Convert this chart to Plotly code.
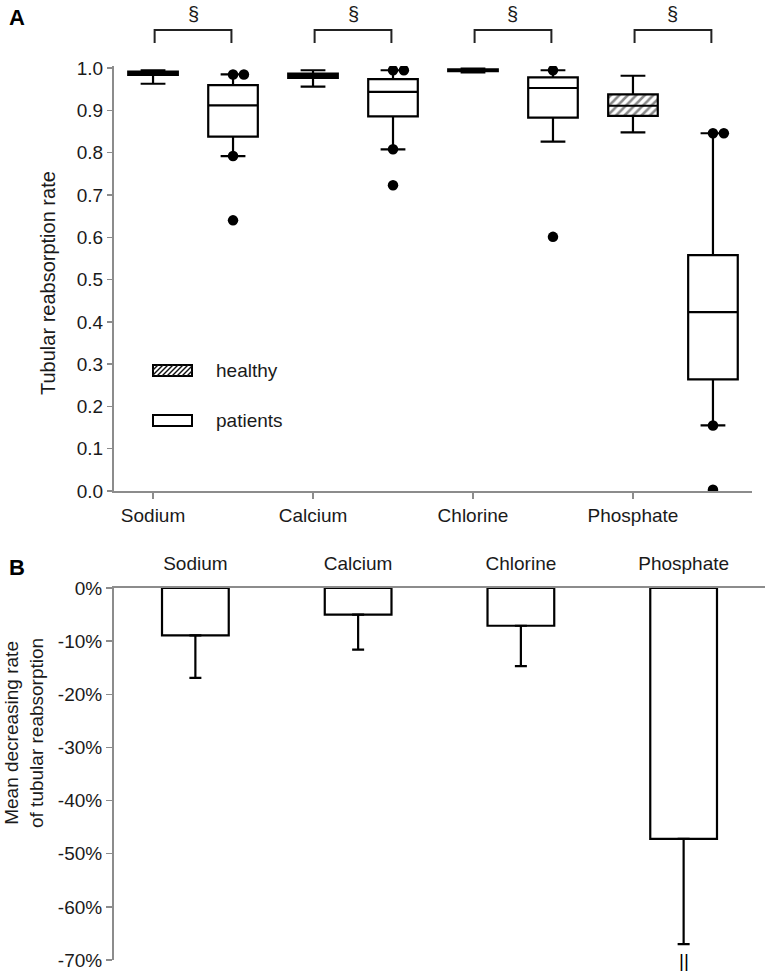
import plotly.graph_objects as go

# ---------------- data ----------------
categories = ["Sodium", "Calcium", "Chlorine", "Phosphate"]

# Panel A: tubular reabsorption rate (box summaries)
healthy_low = [0.963, 0.956, 0.990, 0.848]
healthy_q1 = [0.984, 0.977, 0.993, 0.887]
healthy_med = [0.988, 0.982, 0.995, 0.911]
healthy_q3 = [0.992, 0.987, 0.997, 0.938]
healthy_high = [0.995, 0.995, 0.999, 0.982]

patients_low = [0.792, 0.808, 0.826, 0.155]
patients_q1 = [0.838, 0.886, 0.883, 0.264]
patients_med = [0.912, 0.944, 0.953, 0.423]
patients_q3 = [0.960, 0.974, 0.978, 0.558]
patients_high = [0.985, 0.995, 0.995, 0.846]

# individual points shown for patients (per category)
patients_points = [
    [0.985, 0.985, 0.792, 0.640],
    [0.995, 0.995, 0.808, 0.723],
    [0.995, 0.601],
    [0.846, 0.846, 0.155, 0.003],
]

# Panel B: mean decreasing rate of tubular reabsorption (%)
mean_decrease = [-8.9, -5.0, -7.1, -47.2]
sd_decrease = [8.0, 6.6, 7.6, 19.8]

ticks_a = [0.0, 0.1, 0.2, 0.3, 0.4, 0.5, 0.6, 0.7, 0.8, 0.9, 1.0]
ticks_b = [0, -10, -20, -30, -40, -50, -60, -70]

# ---------------- styling ----------------
W, H = 768, 974
FONT = "Liberation Sans, Arial, sans-serif"
TXT = "#1a1a1a"
AXC = "#8c8c8c"
BOXW = 0.31
OFF = 0.5


def px(x):
    return x / W


def py(y):
    return 1 - y / H


fig = go.Figure()

n = len(categories)
pos_h = list(range(n))
pos_p = [i + OFF for i in range(n)]

# hatched fill for healthy boxes
fig.add_trace(go.Bar(
    x=pos_h, base=healthy_q1,
    y=[q3 - q1 for q1, q3 in zip(healthy_q1, healthy_q3)],
    width=BOXW,
    marker=dict(color="white", line=dict(width=0),
                pattern=dict(shape="/", fgcolor="#111", bgcolor="white", size=6, solidity=0.42)),
    xaxis="x", yaxis="y", hoverinfo="skip",
))

box_common = dict(width=BOXW, whiskerwidth=0.5, boxpoints=False,
                  line=dict(color="black", width=2.2), fillcolor="rgba(0,0,0,0)",
                  xaxis="x", yaxis="y")
fig.add_trace(go.Box(x=pos_h, q1=healthy_q1, median=healthy_med, q3=healthy_q3,
                     lowerfence=healthy_low, upperfence=healthy_high, name="healthy", **box_common))
fig.add_trace(go.Box(x=pos_p, q1=patients_q1, median=patients_med, q3=patients_q3,
                     lowerfence=patients_low, upperfence=patients_high, name="patients", **box_common))

# points (repeated values nudged sideways so both show)
px_list, py_list = [], []
for i, vals in enumerate(patients_points):
    seen = {}
    for v in vals:
        k = seen.get(v, 0)
        seen[v] = k + 1
        px_list.append(i + OFF + 0.068 * k)
        py_list.append(v)
fig.add_trace(go.Scatter(x=px_list, y=py_list, mode="markers",
                         marker=dict(color="black", size=10.5),
                         xaxis="x", yaxis="y", hoverinfo="skip"))

# Panel B bars
fig.add_trace(go.Bar(
    x=list(range(n)), y=mean_decrease, width=0.41,
    marker=dict(color="white", line=dict(color="black", width=2.2)),
    error_y=dict(type="data", symmetric=False, array=[0] * n, arrayminus=sd_decrease,
                 color="black", thickness=2.2, width=6),
    xaxis="x2", yaxis="y2", hoverinfo="skip",
))

axis_common = dict(showline=True, linecolor=AXC, linewidth=2, showgrid=False, zeroline=False,
                   automargin=False,
                   tickfont=dict(family=FONT, size=19, color=TXT))

fig.update_layout(
    width=W, height=H,
    margin=dict(l=0, r=0, t=0, b=0, pad=0, autoexpand=False),
    plot_bgcolor="white", paper_bgcolor="white",
    showlegend=False,
    font=dict(family=FONT, size=18, color=TXT),
    barmode="overlay",
    xaxis=dict(domain=[px(114), px(752)], range=[-0.244, 3.744], anchor="y",
               tickvals=list(range(n)), ticktext=categories,
               ticks="outside", ticklen=6, tickwidth=1.5, tickcolor=AXC, **axis_common),
    yaxis=dict(domain=[py(491), py(66)], range=[0, 1.005], anchor="x",
               tickvals=ticks_a, ticktext=[f"{t:.1f}" for t in ticks_a],
               ticks="outside", ticklen=5, tickwidth=1.5, tickcolor=AXC, **axis_common),
    xaxis2=dict(domain=[px(114), px(765)], range=[-0.5, 3.5], anchor="y2", side="top",
                tickvals=list(range(n)), ticktext=categories, ticks="",
                ticklabelstandoff=8, **axis_common),
    yaxis2=dict(domain=[py(960), py(588)], range=[-70, 0], anchor="x2",
                tickvals=ticks_b, ticktext=[f"{t}%" for t in ticks_b],
                ticks="outside", ticklen=6, tickwidth=1.5, tickcolor=AXC, **axis_common),
)

shapes = []
annotations = []

# significance brackets
for i in range(n):
    x0, x1 = i + 0.01, i + OFF - 0.01
    ytop, ybot = py(30), py(43)
    shapes.append(dict(type="path", xref="x", yref="paper",
                       path=f"M {x0},{ybot} L {x0},{ytop} L {x1},{ytop} L {x1},{ybot}",
                       line=dict(color="#222", width=2)))
    annotations.append(dict(x=i + OFF / 2, y=py(14), xref="x", yref="paper", text="§",
                            showarrow=False, yanchor="middle",
                            font=dict(family=FONT, size=20, color=TXT)))

# manual legend
lx0, lx1 = 153, 192
for (ytop, ybot, label, hatched) in [(365, 376, "healthy", True), (415, 426, "patients", False)]:
    shapes.append(dict(type="rect", xref="paper", yref="paper",
                       x0=px(lx0), x1=px(lx1), y0=py(ybot), y1=py(ytop),
                       line=dict(color="black", width=2), fillcolor="white"))
    if hatched:
        h = ybot - ytop
        b = lx0 - h
        while b < lx1:
            xs, ys = b, ybot
            xe, ye = b + h, ytop
            if xs < lx0:
                ys = ybot - (lx0 - xs)
                xs = lx0
            if xe > lx1:
                ye = ybot - (lx1 - b)
                xe = lx1
            shapes.append(dict(type="line", xref="paper", yref="paper",
                               x0=px(xs), y0=py(ys), x1=px(xe), y1=py(ye),
                               line=dict(color="#111", width=1.5)))
            b += 5
    annotations.append(dict(x=px(214), y=py((ytop + ybot) / 2), xref="paper", yref="paper",
                            text=label, showarrow=False, xanchor="left", yanchor="middle",
                            font=dict(family=FONT, size=19, color=TXT)))

# panel letters
annotations.append(dict(x=px(7), y=py(17), xref="paper", yref="paper", text="<b>A</b>",
                        showarrow=False, xanchor="left", yanchor="middle",
                        font=dict(family=FONT, size=22, color="black")))
annotations.append(dict(x=px(7), y=py(567), xref="paper", yref="paper", text="<b>B</b>",
                        showarrow=False, xanchor="left", yanchor="middle",
                        font=dict(family=FONT, size=22, color="black")))

# axis titles
annotations.append(dict(x=px(48), y=py(283), xref="paper", yref="paper",
                        text="Tubular reabsorption rate", textangle=-90, showarrow=False,
                        xanchor="center", yanchor="middle",
                        font=dict(family=FONT, size=20, color=TXT)))
annotations.append(dict(x=px(24), y=py(733), xref="paper", yref="paper",
                        text="Mean decreasing rate<br>of tubular reabsorption", textangle=-90,
                        showarrow=False, xanchor="center", yanchor="middle",
                        font=dict(family=FONT, size=19, color=TXT)))

# break mark under the phosphate error bar
annotations.append(dict(x=3, y=-70, xref="x2", yref="y2", text="||", showarrow=False,
                        xanchor="center", yanchor="middle",
                        font=dict(family=FONT, size=19, color="black")))

fig.update_layout(shapes=shapes, annotations=annotations)

fig.write_html("out.html",
               config={"displayModeBar": False, "staticPlot": True},
               post_script="document.body.style.margin='0';document.body.style.padding='0';")
